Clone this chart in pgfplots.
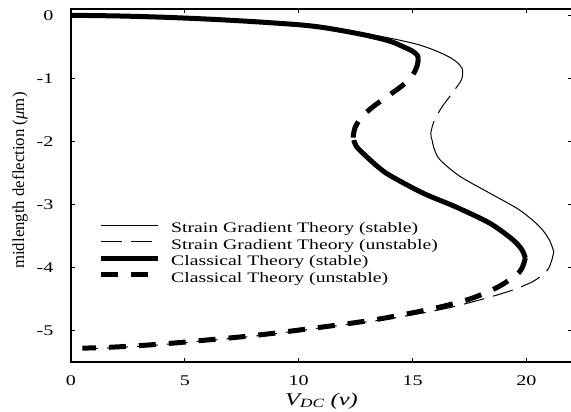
\documentclass[border=0pt]{standalone}
\usepackage{fontspec}
\setmainfont{Liberation Serif}[FakeStretch=1.36]
\newfontfamily\plainserif{Liberation Serif}
\usepackage{pgfplots}
\pgfplotsset{compat=1.18}
\usetikzlibrary{calc}

\begin{document}
\begin{tikzpicture}
\begin{axis}[
    name=main,
    scale only axis,
    width=501bp, height=353bp,
    xmin=0, xmax=22, ymin=-5.5, ymax=0.1,
    xtick={0,5,10,15,20}, xticklabels={0,5,10,15,20},
    ytick={-5,-4,-3,-2,-1,0}, yticklabels={-5,-4,-3,-2,-1,0},
    tick align=inside, major tick length=4bp,
    axis line style={line width=1.2bp},
    tick style={line width=1bp, black},
    every tick label/.append style={font=\fontsize{14.8bp}{16bp}\selectfont},
    xticklabel style={yshift=-10bp},
    yticklabel style={xshift=-14bp},
    xlabel={\itshape V\textsubscript{DC} (v)},
    xlabel style={at={(axis description cs:0.5,-0.0765)}, anchor=north,
        font=\fontsize{18bp}{20bp}\selectfont},
    ylabel={\plainserif midlength deflection (\textit{μ}m)},
    ylabel style={at={(axis description cs:-0.1018,0.514)}, anchor=center,
        font=\fontsize{16.8bp}{18bp}\selectfont},
    legend image code/.code={\draw[#1] (0bp,3.5bp) -- (57bp,3.5bp);},
    legend cell align=left,
    legend style={draw=none, fill=none, at={(axis description cs:0.0539,0.3946)},
        anchor=north west, inner sep=0pt, row sep=4.8bp, column sep=11bp,
        nodes={inner sep=0pt}, font=\fontsize{14.5bp}{16bp}\selectfont},
    every axis plot/.append style={black, smooth, line join=round},
]
% strain gradient theory
\addplot[line width=1bp] coordinates {
    (0,0) (2,-0.01) (4,-0.03) (6,-0.06) (8,-0.1) (10,-0.15) (11.4,-0.2)
    (12.5,-0.26) (13.55,-0.33) (14.5,-0.4) (15.3,-0.47) (16.0,-0.56)
    (16.6,-0.66) (17.0,-0.76) (17.2,-0.86)
};
\addplot[line width=1bp, dash pattern=on 21bp off 9bp] coordinates {
    (17.2,-0.86) (17.15,-1.02) (16.75,-1.23) (16.3,-1.45) (15.96,-1.66)
    (15.8,-1.87) (15.85,-1.97)
};
\addplot[line width=1bp, forget plot] coordinates {
    (15.85,-1.97) (15.95,-2.12) (16.2,-2.29) (17.06,-2.55) (18.38,-2.82)
    (19.7,-3.09) (20.57,-3.35) (21.0,-3.56) (21.2,-3.75)
};
\addplot[line width=1bp, dash pattern=on 21bp off 9bp, forget plot] coordinates {
    (21.2,-3.75) (21.1,-3.9) (20.9,-4.05) (20.3,-4.22) (19.3,-4.37)
    (18.1,-4.5) (16.6,-4.64) (15,-4.75) (13.5,-4.84) (12,-4.91)
    (10.5,-4.98) (9,-5.05) (7.5,-5.11) (6,-5.16) (4.5,-5.21) (3,-5.25)
    (1.5,-5.28) (0.5,-5.29)
};
% classical theory
\addplot[line width=5bp] coordinates {
    (0,0) (2,-0.01) (4,-0.03) (6,-0.06) (8,-0.1) (10,-0.15) (11,-0.19)
    (12,-0.25) (13,-0.32) (14,-0.41) (14.6,-0.5) (15,-0.57) (15.2,-0.63)
    (15.25,-0.68)
};
\addplot[line width=5bp, dash pattern=on 17bp off 13bp] coordinates {
    (15.25,-0.68) (15.2,-0.8) (15.0,-0.95) (14.6,-1.1) (14.0,-1.26)
    (13.3,-1.44) (12.8,-1.6) (12.5,-1.76) (12.4,-1.9) (12.42,-1.98)
};
\addplot[line width=5bp, forget plot] coordinates {
    (12.42,-1.98) (12.53,-2.08) (12.97,-2.24) (13.5,-2.41) (14.0,-2.54)
    (15.45,-2.82) (16.9,-3.04) (18.4,-3.3) (19.4,-3.56) (19.8,-3.72)
    (19.95,-3.85)
};
\addplot[line width=5bp, dash pattern=on 17bp off 13bp, forget plot] coordinates {
    (19.95,-3.85) (19.7,-4.07) (18.8,-4.3) (17.6,-4.49) (16.3,-4.62)
    (15,-4.72) (13.5,-4.82) (12,-4.9) (10.5,-4.97) (9,-5.04) (7.5,-5.1)
    (6,-5.15) (4.5,-5.2) (3,-5.24) (1.5,-5.27) (0.5,-5.28)
};
\legend{Strain Gradient Theory (stable), Strain Gradient Theory (unstable),
    Classical Theory (stable), Classical Theory (unstable)}
\end{axis}
\pgfresetboundingbox
\path[use as bounding box] ($(main.south west)+(-71bp,-50bp)$)
    rectangle ($(main.north east)+(-1bp,9bp)$);
\end{tikzpicture}
\end{document}
